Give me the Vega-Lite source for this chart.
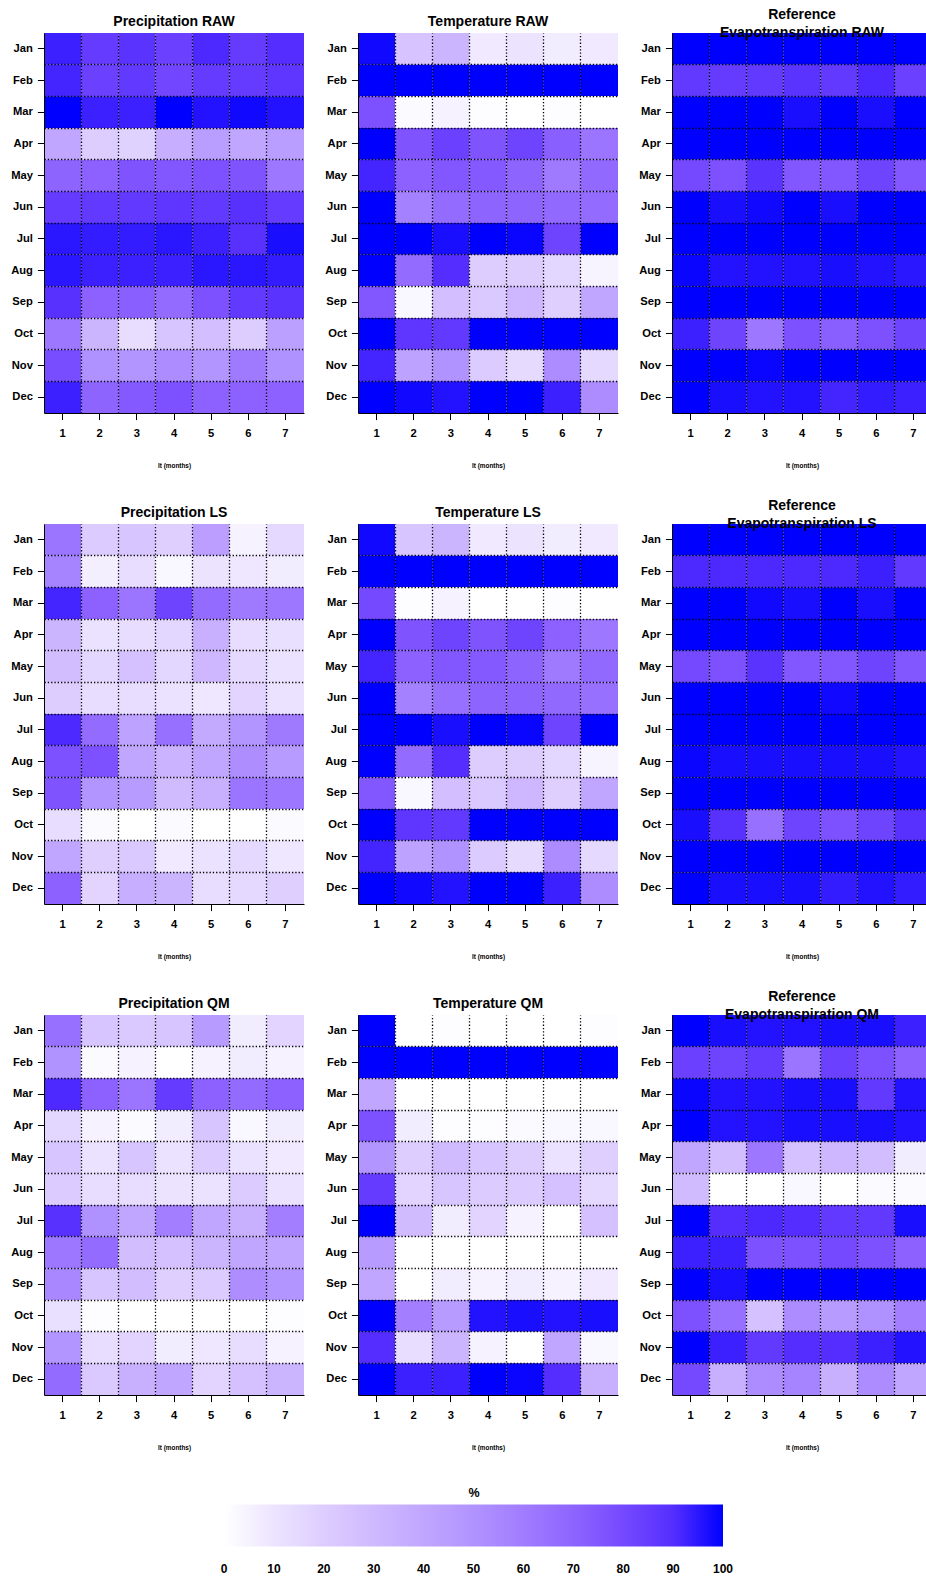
{
"$schema": "https://vega.github.io/schema/vega-lite/v6.json",
"padding": {"left": 10, "top": 8, "right": 0, "bottom": 0},
"bounds": "flush",
"columns": 3,
"spacing": {"row": 111, "column": 54},
"resolve": {"scale": {"color": "shared"}, "legend": {"color": "shared"}},
"config": {
  "view": {"stroke": null},
  "font": "Liberation Sans",
  "axis": {"labelFont": "Liberation Sans", "labelFontWeight": "bold", "labelFontSize": 11.2, "labelColor": "black", "tickColor": "black", "tickSize": 6.6, "tickWidth": 1, "domainColor": "black", "domainWidth": 1, "titleFont": "Liberation Sans", "titleColor": "black", "grid": false},
  "axisX": {"labelPadding": 8, "labelAngle": 0},
  "axisY": {"labelPadding": 5},
  "title": {"font": "Liberation Sans", "fontSize": 14, "fontWeight": "bold", "color": "black", "offset": 4, "anchor": "middle", "lineHeight": 18},
  "legend": {"gradientLength": 499, "gradientThickness": 42, "titleAnchor": "middle", "titleFontSize": 12.5, "titleFont": "Liberation Sans", "titleFontWeight": "bold", "titleColor": "black", "labelFont": "Liberation Sans", "labelFontWeight": "bold", "labelFontSize": 12, "labelColor": "black", "labelOverlap": false, "gradientStrokeWidth": 0, "titlePadding": 5, "gradientLabelOffset": 17}
},
"datasets": {
"PR": [
{"m":"Jan","lt":1,"v":93},{"m":"Jan","lt":2,"v":85},{"m":"Jan","lt":3,"v":88},{"m":"Jan","lt":4,"v":83},{"m":"Jan","lt":5,"v":91},{"m":"Jan","lt":6,"v":85},{"m":"Jan","lt":7,"v":90},
{"m":"Feb","lt":1,"v":92},{"m":"Feb","lt":2,"v":83},{"m":"Feb","lt":3,"v":86},{"m":"Feb","lt":4,"v":81},{"m":"Feb","lt":5,"v":85},{"m":"Feb","lt":6,"v":85},{"m":"Feb","lt":7,"v":87},
{"m":"Mar","lt":1,"v":100},{"m":"Mar","lt":2,"v":93},{"m":"Mar","lt":3,"v":93},{"m":"Mar","lt":4,"v":100},{"m":"Mar","lt":5,"v":96},{"m":"Mar","lt":6,"v":98},{"m":"Mar","lt":7,"v":96},
{"m":"Apr","lt":1,"v":40},{"m":"Apr","lt":2,"v":20},{"m":"Apr","lt":3,"v":18},{"m":"Apr","lt":4,"v":36},{"m":"Apr","lt":5,"v":45},{"m":"Apr","lt":6,"v":40},{"m":"Apr","lt":7,"v":45},
{"m":"May","lt":1,"v":70},{"m":"May","lt":2,"v":71},{"m":"May","lt":3,"v":76},{"m":"May","lt":4,"v":75},{"m":"May","lt":5,"v":77},{"m":"May","lt":6,"v":76},{"m":"May","lt":7,"v":62},
{"m":"Jun","lt":1,"v":85},{"m":"Jun","lt":2,"v":86},{"m":"Jun","lt":3,"v":86},{"m":"Jun","lt":4,"v":87},{"m":"Jun","lt":5,"v":86},{"m":"Jun","lt":6,"v":89},{"m":"Jun","lt":7,"v":85},
{"m":"Jul","lt":1,"v":95},{"m":"Jul","lt":2,"v":94},{"m":"Jul","lt":3,"v":94},{"m":"Jul","lt":4,"v":95},{"m":"Jul","lt":5,"v":93},{"m":"Jul","lt":6,"v":89},{"m":"Jul","lt":7,"v":97},
{"m":"Aug","lt":1,"v":95},{"m":"Aug","lt":2,"v":93},{"m":"Aug","lt":3,"v":93},{"m":"Aug","lt":4,"v":93},{"m":"Aug","lt":5,"v":95},{"m":"Aug","lt":6,"v":95},{"m":"Aug","lt":7,"v":94},
{"m":"Sep","lt":1,"v":89},{"m":"Sep","lt":2,"v":71},{"m":"Sep","lt":3,"v":72},{"m":"Sep","lt":4,"v":67},{"m":"Sep","lt":5,"v":77},{"m":"Sep","lt":6,"v":86},{"m":"Sep","lt":7,"v":88},
{"m":"Oct","lt":1,"v":62},{"m":"Oct","lt":2,"v":32},{"m":"Oct","lt":3,"v":13},{"m":"Oct","lt":4,"v":24},{"m":"Oct","lt":5,"v":27},{"m":"Oct","lt":6,"v":20},{"m":"Oct","lt":7,"v":43},
{"m":"Nov","lt":1,"v":79},{"m":"Nov","lt":2,"v":51},{"m":"Nov","lt":3,"v":49},{"m":"Nov","lt":4,"v":53},{"m":"Nov","lt":5,"v":49},{"m":"Nov","lt":6,"v":61},{"m":"Nov","lt":7,"v":51},
{"m":"Dec","lt":1,"v":93},{"m":"Dec","lt":2,"v":70},{"m":"Dec","lt":3,"v":74},{"m":"Dec","lt":4,"v":77},{"m":"Dec","lt":5,"v":71},{"m":"Dec","lt":6,"v":71},{"m":"Dec","lt":7,"v":71}
],
"TR": [
{"m":"Jan","lt":1,"v":98},{"m":"Jan","lt":2,"v":25},{"m":"Jan","lt":3,"v":32},{"m":"Jan","lt":4,"v":8},{"m":"Jan","lt":5,"v":10},{"m":"Jan","lt":6,"v":7},{"m":"Jan","lt":7,"v":8},
{"m":"Feb","lt":1,"v":100},{"m":"Feb","lt":2,"v":100},{"m":"Feb","lt":3,"v":100},{"m":"Feb","lt":4,"v":100},{"m":"Feb","lt":5,"v":100},{"m":"Feb","lt":6,"v":100},{"m":"Feb","lt":7,"v":100},
{"m":"Mar","lt":1,"v":77},{"m":"Mar","lt":2,"v":2},{"m":"Mar","lt":3,"v":5},{"m":"Mar","lt":4,"v":1},{"m":"Mar","lt":5,"v":0},{"m":"Mar","lt":6,"v":1},{"m":"Mar","lt":7,"v":0},
{"m":"Apr","lt":1,"v":100},{"m":"Apr","lt":2,"v":76},{"m":"Apr","lt":3,"v":83},{"m":"Apr","lt":4,"v":76},{"m":"Apr","lt":5,"v":82},{"m":"Apr","lt":6,"v":72},{"m":"Apr","lt":7,"v":63},
{"m":"May","lt":1,"v":92},{"m":"May","lt":2,"v":71},{"m":"May","lt":3,"v":75},{"m":"May","lt":4,"v":74},{"m":"May","lt":5,"v":70},{"m":"May","lt":6,"v":61},{"m":"May","lt":7,"v":68},
{"m":"Jun","lt":1,"v":100},{"m":"Jun","lt":2,"v":58},{"m":"Jun","lt":3,"v":67},{"m":"Jun","lt":4,"v":70},{"m":"Jun","lt":5,"v":70},{"m":"Jun","lt":6,"v":68},{"m":"Jun","lt":7,"v":67},
{"m":"Jul","lt":1,"v":100},{"m":"Jul","lt":2,"v":100},{"m":"Jul","lt":3,"v":97},{"m":"Jul","lt":4,"v":100},{"m":"Jul","lt":5,"v":99},{"m":"Jul","lt":6,"v":82},{"m":"Jul","lt":7,"v":100},
{"m":"Aug","lt":1,"v":100},{"m":"Aug","lt":2,"v":67},{"m":"Aug","lt":3,"v":90},{"m":"Aug","lt":4,"v":20},{"m":"Aug","lt":5,"v":20},{"m":"Aug","lt":6,"v":16},{"m":"Aug","lt":7,"v":4},
{"m":"Sep","lt":1,"v":75},{"m":"Sep","lt":2,"v":3},{"m":"Sep","lt":3,"v":27},{"m":"Sep","lt":4,"v":22},{"m":"Sep","lt":5,"v":31},{"m":"Sep","lt":6,"v":19},{"m":"Sep","lt":7,"v":40},
{"m":"Oct","lt":1,"v":100},{"m":"Oct","lt":2,"v":87},{"m":"Oct","lt":3,"v":86},{"m":"Oct","lt":4,"v":100},{"m":"Oct","lt":5,"v":100},{"m":"Oct","lt":6,"v":100},{"m":"Oct","lt":7,"v":100},
{"m":"Nov","lt":1,"v":92},{"m":"Nov","lt":2,"v":42},{"m":"Nov","lt":3,"v":50},{"m":"Nov","lt":4,"v":21},{"m":"Nov","lt":5,"v":14},{"m":"Nov","lt":6,"v":53},{"m":"Nov","lt":7,"v":15},
{"m":"Dec","lt":1,"v":100},{"m":"Dec","lt":2,"v":98},{"m":"Dec","lt":3,"v":96},{"m":"Dec","lt":4,"v":100},{"m":"Dec","lt":5,"v":100},{"m":"Dec","lt":6,"v":93},{"m":"Dec","lt":7,"v":53}
],
"ER": [
{"m":"Jan","lt":1,"v":100},{"m":"Jan","lt":2,"v":100},{"m":"Jan","lt":3,"v":100},{"m":"Jan","lt":4,"v":100},{"m":"Jan","lt":5,"v":100},{"m":"Jan","lt":6,"v":100},{"m":"Jan","lt":7,"v":100},
{"m":"Feb","lt":1,"v":86},{"m":"Feb","lt":2,"v":85},{"m":"Feb","lt":3,"v":86},{"m":"Feb","lt":4,"v":88},{"m":"Feb","lt":5,"v":86},{"m":"Feb","lt":6,"v":91},{"m":"Feb","lt":7,"v":83},
{"m":"Mar","lt":1,"v":100},{"m":"Mar","lt":2,"v":100},{"m":"Mar","lt":3,"v":100},{"m":"Mar","lt":4,"v":97},{"m":"Mar","lt":5,"v":100},{"m":"Mar","lt":6,"v":97},{"m":"Mar","lt":7,"v":100},
{"m":"Apr","lt":1,"v":100},{"m":"Apr","lt":2,"v":100},{"m":"Apr","lt":3,"v":100},{"m":"Apr","lt":4,"v":100},{"m":"Apr","lt":5,"v":100},{"m":"Apr","lt":6,"v":100},{"m":"Apr","lt":7,"v":100},
{"m":"May","lt":1,"v":80},{"m":"May","lt":2,"v":77},{"m":"May","lt":3,"v":88},{"m":"May","lt":4,"v":75},{"m":"May","lt":5,"v":75},{"m":"May","lt":6,"v":82},{"m":"May","lt":7,"v":75},
{"m":"Jun","lt":1,"v":100},{"m":"Jun","lt":2,"v":97},{"m":"Jun","lt":3,"v":98},{"m":"Jun","lt":4,"v":100},{"m":"Jun","lt":5,"v":97},{"m":"Jun","lt":6,"v":100},{"m":"Jun","lt":7,"v":100},
{"m":"Jul","lt":1,"v":100},{"m":"Jul","lt":2,"v":100},{"m":"Jul","lt":3,"v":100},{"m":"Jul","lt":4,"v":100},{"m":"Jul","lt":5,"v":100},{"m":"Jul","lt":6,"v":100},{"m":"Jul","lt":7,"v":100},
{"m":"Aug","lt":1,"v":99},{"m":"Aug","lt":2,"v":96},{"m":"Aug","lt":3,"v":96},{"m":"Aug","lt":4,"v":96},{"m":"Aug","lt":5,"v":97},{"m":"Aug","lt":6,"v":96},{"m":"Aug","lt":7,"v":95},
{"m":"Sep","lt":1,"v":100},{"m":"Sep","lt":2,"v":100},{"m":"Sep","lt":3,"v":100},{"m":"Sep","lt":4,"v":100},{"m":"Sep","lt":5,"v":100},{"m":"Sep","lt":6,"v":100},{"m":"Sep","lt":7,"v":100},
{"m":"Oct","lt":1,"v":93},{"m":"Oct","lt":2,"v":82},{"m":"Oct","lt":3,"v":62},{"m":"Oct","lt":4,"v":77},{"m":"Oct","lt":5,"v":72},{"m":"Oct","lt":6,"v":77},{"m":"Oct","lt":7,"v":82},
{"m":"Nov","lt":1,"v":100},{"m":"Nov","lt":2,"v":100},{"m":"Nov","lt":3,"v":99},{"m":"Nov","lt":4,"v":100},{"m":"Nov","lt":5,"v":100},{"m":"Nov","lt":6,"v":100},{"m":"Nov","lt":7,"v":100},
{"m":"Dec","lt":1,"v":100},{"m":"Dec","lt":2,"v":97},{"m":"Dec","lt":3,"v":96},{"m":"Dec","lt":4,"v":96},{"m":"Dec","lt":5,"v":92},{"m":"Dec","lt":6,"v":94},{"m":"Dec","lt":7,"v":93}
],
"PL": [
{"m":"Jan","lt":1,"v":63},{"m":"Jan","lt":2,"v":21},{"m":"Jan","lt":3,"v":24},{"m":"Jan","lt":4,"v":19},{"m":"Jan","lt":5,"v":44},{"m":"Jan","lt":6,"v":5},{"m":"Jan","lt":7,"v":15},
{"m":"Feb","lt":1,"v":57},{"m":"Feb","lt":2,"v":6},{"m":"Feb","lt":3,"v":13},{"m":"Feb","lt":4,"v":3},{"m":"Feb","lt":5,"v":10},{"m":"Feb","lt":6,"v":9},{"m":"Feb","lt":7,"v":7},
{"m":"Mar","lt":1,"v":92},{"m":"Mar","lt":2,"v":71},{"m":"Mar","lt":3,"v":63},{"m":"Mar","lt":4,"v":82},{"m":"Mar","lt":5,"v":67},{"m":"Mar","lt":6,"v":61},{"m":"Mar","lt":7,"v":62},
{"m":"Apr","lt":1,"v":32},{"m":"Apr","lt":2,"v":11},{"m":"Apr","lt":3,"v":13},{"m":"Apr","lt":4,"v":16},{"m":"Apr","lt":5,"v":35},{"m":"Apr","lt":6,"v":13},{"m":"Apr","lt":7,"v":12},
{"m":"May","lt":1,"v":28},{"m":"May","lt":2,"v":16},{"m":"May","lt":3,"v":26},{"m":"May","lt":4,"v":16},{"m":"May","lt":5,"v":31},{"m":"May","lt":6,"v":15},{"m":"May","lt":7,"v":11},
{"m":"Jun","lt":1,"v":20},{"m":"Jun","lt":2,"v":13},{"m":"Jun","lt":3,"v":13},{"m":"Jun","lt":4,"v":11},{"m":"Jun","lt":5,"v":9},{"m":"Jun","lt":6,"v":17},{"m":"Jun","lt":7,"v":11},
{"m":"Jul","lt":1,"v":91},{"m":"Jul","lt":2,"v":67},{"m":"Jul","lt":3,"v":42},{"m":"Jul","lt":4,"v":65},{"m":"Jul","lt":5,"v":38},{"m":"Jul","lt":6,"v":49},{"m":"Jul","lt":7,"v":61},
{"m":"Aug","lt":1,"v":77},{"m":"Aug","lt":2,"v":77},{"m":"Aug","lt":3,"v":40},{"m":"Aug","lt":4,"v":33},{"m":"Aug","lt":5,"v":40},{"m":"Aug","lt":6,"v":52},{"m":"Aug","lt":7,"v":46},
{"m":"Sep","lt":1,"v":76},{"m":"Sep","lt":2,"v":49},{"m":"Sep","lt":3,"v":46},{"m":"Sep","lt":4,"v":29},{"m":"Sep","lt":5,"v":35},{"m":"Sep","lt":6,"v":63},{"m":"Sep","lt":7,"v":62},
{"m":"Oct","lt":1,"v":13},{"m":"Oct","lt":2,"v":2},{"m":"Oct","lt":3,"v":0},{"m":"Oct","lt":4,"v":2},{"m":"Oct","lt":5,"v":0},{"m":"Oct","lt":6,"v":0},{"m":"Oct","lt":7,"v":2},
{"m":"Nov","lt":1,"v":40},{"m":"Nov","lt":2,"v":19},{"m":"Nov","lt":3,"v":22},{"m":"Nov","lt":4,"v":8},{"m":"Nov","lt":5,"v":11},{"m":"Nov","lt":6,"v":15},{"m":"Nov","lt":7,"v":9},
{"m":"Dec","lt":1,"v":71},{"m":"Dec","lt":2,"v":17},{"m":"Dec","lt":3,"v":36},{"m":"Dec","lt":4,"v":32},{"m":"Dec","lt":5,"v":13},{"m":"Dec","lt":6,"v":15},{"m":"Dec","lt":7,"v":19}
],
"TL": [
{"m":"Jan","lt":1,"v":98},{"m":"Jan","lt":2,"v":24},{"m":"Jan","lt":3,"v":32},{"m":"Jan","lt":4,"v":8},{"m":"Jan","lt":5,"v":10},{"m":"Jan","lt":6,"v":7},{"m":"Jan","lt":7,"v":8},
{"m":"Feb","lt":1,"v":100},{"m":"Feb","lt":2,"v":100},{"m":"Feb","lt":3,"v":100},{"m":"Feb","lt":4,"v":100},{"m":"Feb","lt":5,"v":100},{"m":"Feb","lt":6,"v":100},{"m":"Feb","lt":7,"v":100},
{"m":"Mar","lt":1,"v":80},{"m":"Mar","lt":2,"v":1},{"m":"Mar","lt":3,"v":5},{"m":"Mar","lt":4,"v":0},{"m":"Mar","lt":5,"v":0},{"m":"Mar","lt":6,"v":1},{"m":"Mar","lt":7,"v":0},
{"m":"Apr","lt":1,"v":100},{"m":"Apr","lt":2,"v":76},{"m":"Apr","lt":3,"v":82},{"m":"Apr","lt":4,"v":76},{"m":"Apr","lt":5,"v":82},{"m":"Apr","lt":6,"v":71},{"m":"Apr","lt":7,"v":62},
{"m":"May","lt":1,"v":92},{"m":"May","lt":2,"v":71},{"m":"May","lt":3,"v":75},{"m":"May","lt":4,"v":74},{"m":"May","lt":5,"v":70},{"m":"May","lt":6,"v":61},{"m":"May","lt":7,"v":68},
{"m":"Jun","lt":1,"v":100},{"m":"Jun","lt":2,"v":58},{"m":"Jun","lt":3,"v":65},{"m":"Jun","lt":4,"v":70},{"m":"Jun","lt":5,"v":70},{"m":"Jun","lt":6,"v":68},{"m":"Jun","lt":7,"v":65},
{"m":"Jul","lt":1,"v":100},{"m":"Jul","lt":2,"v":100},{"m":"Jul","lt":3,"v":97},{"m":"Jul","lt":4,"v":100},{"m":"Jul","lt":5,"v":99},{"m":"Jul","lt":6,"v":82},{"m":"Jul","lt":7,"v":100},
{"m":"Aug","lt":1,"v":100},{"m":"Aug","lt":2,"v":67},{"m":"Aug","lt":3,"v":90},{"m":"Aug","lt":4,"v":20},{"m":"Aug","lt":5,"v":20},{"m":"Aug","lt":6,"v":16},{"m":"Aug","lt":7,"v":4},
{"m":"Sep","lt":1,"v":75},{"m":"Sep","lt":2,"v":3},{"m":"Sep","lt":3,"v":27},{"m":"Sep","lt":4,"v":22},{"m":"Sep","lt":5,"v":31},{"m":"Sep","lt":6,"v":19},{"m":"Sep","lt":7,"v":40},
{"m":"Oct","lt":1,"v":100},{"m":"Oct","lt":2,"v":87},{"m":"Oct","lt":3,"v":86},{"m":"Oct","lt":4,"v":100},{"m":"Oct","lt":5,"v":100},{"m":"Oct","lt":6,"v":100},{"m":"Oct","lt":7,"v":100},
{"m":"Nov","lt":1,"v":92},{"m":"Nov","lt":2,"v":42},{"m":"Nov","lt":3,"v":50},{"m":"Nov","lt":4,"v":21},{"m":"Nov","lt":5,"v":14},{"m":"Nov","lt":6,"v":53},{"m":"Nov","lt":7,"v":15},
{"m":"Dec","lt":1,"v":100},{"m":"Dec","lt":2,"v":98},{"m":"Dec","lt":3,"v":96},{"m":"Dec","lt":4,"v":100},{"m":"Dec","lt":5,"v":100},{"m":"Dec","lt":6,"v":93},{"m":"Dec","lt":7,"v":53}
],
"EL": [
{"m":"Jan","lt":1,"v":100},{"m":"Jan","lt":2,"v":100},{"m":"Jan","lt":3,"v":100},{"m":"Jan","lt":4,"v":100},{"m":"Jan","lt":5,"v":100},{"m":"Jan","lt":6,"v":100},{"m":"Jan","lt":7,"v":100},
{"m":"Feb","lt":1,"v":91},{"m":"Feb","lt":2,"v":91},{"m":"Feb","lt":3,"v":91},{"m":"Feb","lt":4,"v":91},{"m":"Feb","lt":5,"v":91},{"m":"Feb","lt":6,"v":93},{"m":"Feb","lt":7,"v":86},
{"m":"Mar","lt":1,"v":100},{"m":"Mar","lt":2,"v":100},{"m":"Mar","lt":3,"v":98},{"m":"Mar","lt":4,"v":97},{"m":"Mar","lt":5,"v":100},{"m":"Mar","lt":6,"v":97},{"m":"Mar","lt":7,"v":100},
{"m":"Apr","lt":1,"v":100},{"m":"Apr","lt":2,"v":100},{"m":"Apr","lt":3,"v":100},{"m":"Apr","lt":4,"v":100},{"m":"Apr","lt":5,"v":100},{"m":"Apr","lt":6,"v":100},{"m":"Apr","lt":7,"v":100},
{"m":"May","lt":1,"v":80},{"m":"May","lt":2,"v":77},{"m":"May","lt":3,"v":88},{"m":"May","lt":4,"v":75},{"m":"May","lt":5,"v":75},{"m":"May","lt":6,"v":82},{"m":"May","lt":7,"v":75},
{"m":"Jun","lt":1,"v":100},{"m":"Jun","lt":2,"v":100},{"m":"Jun","lt":3,"v":100},{"m":"Jun","lt":4,"v":100},{"m":"Jun","lt":5,"v":98},{"m":"Jun","lt":6,"v":100},{"m":"Jun","lt":7,"v":100},
{"m":"Jul","lt":1,"v":100},{"m":"Jul","lt":2,"v":100},{"m":"Jul","lt":3,"v":100},{"m":"Jul","lt":4,"v":100},{"m":"Jul","lt":5,"v":100},{"m":"Jul","lt":6,"v":100},{"m":"Jul","lt":7,"v":100},
{"m":"Aug","lt":1,"v":99},{"m":"Aug","lt":2,"v":97},{"m":"Aug","lt":3,"v":97},{"m":"Aug","lt":4,"v":97},{"m":"Aug","lt":5,"v":97},{"m":"Aug","lt":6,"v":97},{"m":"Aug","lt":7,"v":96},
{"m":"Sep","lt":1,"v":100},{"m":"Sep","lt":2,"v":100},{"m":"Sep","lt":3,"v":100},{"m":"Sep","lt":4,"v":100},{"m":"Sep","lt":5,"v":100},{"m":"Sep","lt":6,"v":100},{"m":"Sep","lt":7,"v":100},
{"m":"Oct","lt":1,"v":97},{"m":"Oct","lt":2,"v":89},{"m":"Oct","lt":3,"v":65},{"m":"Oct","lt":4,"v":82},{"m":"Oct","lt":5,"v":77},{"m":"Oct","lt":6,"v":82},{"m":"Oct","lt":7,"v":89},
{"m":"Nov","lt":1,"v":100},{"m":"Nov","lt":2,"v":100},{"m":"Nov","lt":3,"v":100},{"m":"Nov","lt":4,"v":100},{"m":"Nov","lt":5,"v":100},{"m":"Nov","lt":6,"v":100},{"m":"Nov","lt":7,"v":100},
{"m":"Dec","lt":1,"v":100},{"m":"Dec","lt":2,"v":97},{"m":"Dec","lt":3,"v":97},{"m":"Dec","lt":4,"v":97},{"m":"Dec","lt":5,"v":94},{"m":"Dec","lt":6,"v":96},{"m":"Dec","lt":7,"v":94}
],
"PQ": [
{"m":"Jan","lt":1,"v":65},{"m":"Jan","lt":2,"v":24},{"m":"Jan","lt":3,"v":22},{"m":"Jan","lt":4,"v":24},{"m":"Jan","lt":5,"v":46},{"m":"Jan","lt":6,"v":7},{"m":"Jan","lt":7,"v":17},
{"m":"Feb","lt":1,"v":50},{"m":"Feb","lt":2,"v":2},{"m":"Feb","lt":3,"v":5},{"m":"Feb","lt":4,"v":0},{"m":"Feb","lt":5,"v":5},{"m":"Feb","lt":6,"v":7},{"m":"Feb","lt":7,"v":5},
{"m":"Mar","lt":1,"v":91},{"m":"Mar","lt":2,"v":71},{"m":"Mar","lt":3,"v":63},{"m":"Mar","lt":4,"v":85},{"m":"Mar","lt":5,"v":71},{"m":"Mar","lt":6,"v":67},{"m":"Mar","lt":7,"v":71},
{"m":"Apr","lt":1,"v":16},{"m":"Apr","lt":2,"v":5},{"m":"Apr","lt":3,"v":2},{"m":"Apr","lt":4,"v":7},{"m":"Apr","lt":5,"v":24},{"m":"Apr","lt":6,"v":3},{"m":"Apr","lt":7,"v":7},
{"m":"May","lt":1,"v":24},{"m":"May","lt":2,"v":11},{"m":"May","lt":3,"v":24},{"m":"May","lt":4,"v":11},{"m":"May","lt":5,"v":21},{"m":"May","lt":6,"v":11},{"m":"May","lt":7,"v":8},
{"m":"Jun","lt":1,"v":21},{"m":"Jun","lt":2,"v":13},{"m":"Jun","lt":3,"v":13},{"m":"Jun","lt":4,"v":10},{"m":"Jun","lt":5,"v":11},{"m":"Jun","lt":6,"v":21},{"m":"Jun","lt":7,"v":11},
{"m":"Jul","lt":1,"v":89},{"m":"Jul","lt":2,"v":51},{"m":"Jul","lt":3,"v":40},{"m":"Jul","lt":4,"v":59},{"m":"Jul","lt":5,"v":40},{"m":"Jul","lt":6,"v":35},{"m":"Jul","lt":7,"v":59},
{"m":"Aug","lt":1,"v":62},{"m":"Aug","lt":2,"v":67},{"m":"Aug","lt":3,"v":28},{"m":"Aug","lt":4,"v":26},{"m":"Aug","lt":5,"v":32},{"m":"Aug","lt":6,"v":40},{"m":"Aug","lt":7,"v":40},
{"m":"Sep","lt":1,"v":55},{"m":"Sep","lt":2,"v":24},{"m":"Sep","lt":3,"v":28},{"m":"Sep","lt":4,"v":19},{"m":"Sep","lt":5,"v":21},{"m":"Sep","lt":6,"v":52},{"m":"Sep","lt":7,"v":49},
{"m":"Oct","lt":1,"v":12},{"m":"Oct","lt":2,"v":1},{"m":"Oct","lt":3,"v":0},{"m":"Oct","lt":4,"v":0},{"m":"Oct","lt":5,"v":0},{"m":"Oct","lt":6,"v":0},{"m":"Oct","lt":7,"v":1},
{"m":"Nov","lt":1,"v":49},{"m":"Nov","lt":2,"v":13},{"m":"Nov","lt":3,"v":17},{"m":"Nov","lt":4,"v":7},{"m":"Nov","lt":5,"v":9},{"m":"Nov","lt":6,"v":13},{"m":"Nov","lt":7,"v":5},
{"m":"Dec","lt":1,"v":67},{"m":"Dec","lt":2,"v":22},{"m":"Dec","lt":3,"v":35},{"m":"Dec","lt":4,"v":40},{"m":"Dec","lt":5,"v":17},{"m":"Dec","lt":6,"v":26},{"m":"Dec","lt":7,"v":32}
],
"TQ": [
{"m":"Jan","lt":1,"v":100},{"m":"Jan","lt":2,"v":0},{"m":"Jan","lt":3,"v":1},{"m":"Jan","lt":4,"v":0},{"m":"Jan","lt":5,"v":0},{"m":"Jan","lt":6,"v":0},{"m":"Jan","lt":7,"v":1},
{"m":"Feb","lt":1,"v":100},{"m":"Feb","lt":2,"v":100},{"m":"Feb","lt":3,"v":100},{"m":"Feb","lt":4,"v":100},{"m":"Feb","lt":5,"v":100},{"m":"Feb","lt":6,"v":100},{"m":"Feb","lt":7,"v":100},
{"m":"Mar","lt":1,"v":40},{"m":"Mar","lt":2,"v":0},{"m":"Mar","lt":3,"v":0},{"m":"Mar","lt":4,"v":0},{"m":"Mar","lt":5,"v":0},{"m":"Mar","lt":6,"v":0},{"m":"Mar","lt":7,"v":0},
{"m":"Apr","lt":1,"v":77},{"m":"Apr","lt":2,"v":7},{"m":"Apr","lt":3,"v":1},{"m":"Apr","lt":4,"v":1},{"m":"Apr","lt":5,"v":2},{"m":"Apr","lt":6,"v":3},{"m":"Apr","lt":7,"v":3},
{"m":"May","lt":1,"v":49},{"m":"May","lt":2,"v":20},{"m":"May","lt":3,"v":29},{"m":"May","lt":4,"v":24},{"m":"May","lt":5,"v":20},{"m":"May","lt":6,"v":11},{"m":"May","lt":7,"v":19},
{"m":"Jun","lt":1,"v":85},{"m":"Jun","lt":2,"v":17},{"m":"Jun","lt":3,"v":24},{"m":"Jun","lt":4,"v":21},{"m":"Jun","lt":5,"v":21},{"m":"Jun","lt":6,"v":26},{"m":"Jun","lt":7,"v":15},
{"m":"Jul","lt":1,"v":100},{"m":"Jul","lt":2,"v":29},{"m":"Jul","lt":3,"v":7},{"m":"Jul","lt":4,"v":17},{"m":"Jul","lt":5,"v":5},{"m":"Jul","lt":6,"v":0},{"m":"Jul","lt":7,"v":26},
{"m":"Aug","lt":1,"v":46},{"m":"Aug","lt":2,"v":0},{"m":"Aug","lt":3,"v":0},{"m":"Aug","lt":4,"v":0},{"m":"Aug","lt":5,"v":0},{"m":"Aug","lt":6,"v":0},{"m":"Aug","lt":7,"v":0},
{"m":"Sep","lt":1,"v":40},{"m":"Sep","lt":2,"v":0},{"m":"Sep","lt":3,"v":7},{"m":"Sep","lt":4,"v":5},{"m":"Sep","lt":5,"v":7},{"m":"Sep","lt":6,"v":5},{"m":"Sep","lt":7,"v":8},
{"m":"Oct","lt":1,"v":100},{"m":"Oct","lt":2,"v":59},{"m":"Oct","lt":3,"v":46},{"m":"Oct","lt":4,"v":96},{"m":"Oct","lt":5,"v":97},{"m":"Oct","lt":6,"v":96},{"m":"Oct","lt":7,"v":97},
{"m":"Nov","lt":1,"v":90},{"m":"Nov","lt":2,"v":13},{"m":"Nov","lt":3,"v":32},{"m":"Nov","lt":4,"v":5},{"m":"Nov","lt":5,"v":0},{"m":"Nov","lt":6,"v":40},{"m":"Nov","lt":7,"v":3},
{"m":"Dec","lt":1,"v":100},{"m":"Dec","lt":2,"v":93},{"m":"Dec","lt":3,"v":93},{"m":"Dec","lt":4,"v":100},{"m":"Dec","lt":5,"v":99},{"m":"Dec","lt":6,"v":90},{"m":"Dec","lt":7,"v":35}
],
"EQ": [
{"m":"Jan","lt":1,"v":100},{"m":"Jan","lt":2,"v":97},{"m":"Jan","lt":3,"v":96},{"m":"Jan","lt":4,"v":96},{"m":"Jan","lt":5,"v":97},{"m":"Jan","lt":6,"v":97},{"m":"Jan","lt":7,"v":93},
{"m":"Feb","lt":1,"v":83},{"m":"Feb","lt":2,"v":82},{"m":"Feb","lt":3,"v":85},{"m":"Feb","lt":4,"v":63},{"m":"Feb","lt":5,"v":83},{"m":"Feb","lt":6,"v":77},{"m":"Feb","lt":7,"v":71},
{"m":"Mar","lt":1,"v":99},{"m":"Mar","lt":2,"v":96},{"m":"Mar","lt":3,"v":96},{"m":"Mar","lt":4,"v":97},{"m":"Mar","lt":5,"v":97},{"m":"Mar","lt":6,"v":86},{"m":"Mar","lt":7,"v":96},
{"m":"Apr","lt":1,"v":100},{"m":"Apr","lt":2,"v":96},{"m":"Apr","lt":3,"v":96},{"m":"Apr","lt":4,"v":97},{"m":"Apr","lt":5,"v":97},{"m":"Apr","lt":6,"v":97},{"m":"Apr","lt":7,"v":96},
{"m":"May","lt":1,"v":40},{"m":"May","lt":2,"v":28},{"m":"May","lt":3,"v":62},{"m":"May","lt":4,"v":26},{"m":"May","lt":5,"v":31},{"m":"May","lt":6,"v":28},{"m":"May","lt":7,"v":7},
{"m":"Jun","lt":1,"v":29},{"m":"Jun","lt":2,"v":0},{"m":"Jun","lt":3,"v":0},{"m":"Jun","lt":4,"v":3},{"m":"Jun","lt":5,"v":0},{"m":"Jun","lt":6,"v":2},{"m":"Jun","lt":7,"v":2},
{"m":"Jul","lt":1,"v":100},{"m":"Jul","lt":2,"v":90},{"m":"Jul","lt":3,"v":91},{"m":"Jul","lt":4,"v":90},{"m":"Jul","lt":5,"v":86},{"m":"Jul","lt":6,"v":86},{"m":"Jul","lt":7,"v":97},
{"m":"Aug","lt":1,"v":93},{"m":"Aug","lt":2,"v":93},{"m":"Aug","lt":3,"v":77},{"m":"Aug","lt":4,"v":77},{"m":"Aug","lt":5,"v":80},{"m":"Aug","lt":6,"v":77},{"m":"Aug","lt":7,"v":71},
{"m":"Sep","lt":1,"v":100},{"m":"Sep","lt":2,"v":97},{"m":"Sep","lt":3,"v":100},{"m":"Sep","lt":4,"v":100},{"m":"Sep","lt":5,"v":100},{"m":"Sep","lt":6,"v":100},{"m":"Sep","lt":7,"v":100},
{"m":"Oct","lt":1,"v":77},{"m":"Oct","lt":2,"v":65},{"m":"Oct","lt":3,"v":26},{"m":"Oct","lt":4,"v":53},{"m":"Oct","lt":5,"v":46},{"m":"Oct","lt":6,"v":51},{"m":"Oct","lt":7,"v":59},
{"m":"Nov","lt":1,"v":100},{"m":"Nov","lt":2,"v":93},{"m":"Nov","lt":3,"v":86},{"m":"Nov","lt":4,"v":90},{"m":"Nov","lt":5,"v":90},{"m":"Nov","lt":6,"v":93},{"m":"Nov","lt":7,"v":96},
{"m":"Dec","lt":1,"v":80},{"m":"Dec","lt":2,"v":35},{"m":"Dec","lt":3,"v":53},{"m":"Dec","lt":4,"v":57},{"m":"Dec","lt":5,"v":35},{"m":"Dec","lt":6,"v":53},{"m":"Dec","lt":7,"v":40}
]
},
"concat": [
{"width":260,"height":380,"data":{"name":"PR"},"title":{"text":"Precipitation RAW"},
 "layer":[
  {"mark":"rect","encoding":{
   "x":{"field":"lt","type":"ordinal","axis":{"title":"lt (months)","titleFontSize":6.4,"titleFontWeight":"bold","titlePadding":24}},
   "y":{"field":"m","type":"ordinal","sort":["Jan","Feb","Mar","Apr","May","Jun","Jul","Aug","Sep","Oct","Nov","Dec"],"axis":{"title":null}},
   "color":{"field":"v","type":"quantitative","scale":{"domain":[0,10,20,30,40,50,60,70,80,90,100],"range":["#ffffff","#ece4ff","#ddcdff","#cfb9ff","#c1a6ff","#b193ff","#a17cff","#8e64ff","#7549ff","#552eff","#0000ff"],"interpolate":"rgb"},"legend":{"orient":"none","direction":"horizontal","legendX":180,"legendY":1454,"values":[0,10,20,30,40,50,60,70,80,90,100],"title":"%","encode":{"labels":{"update":{"align":{"value":"center"}}}}}}}},
  {"mark":{"type":"rect","opacity":0},"encoding":{
   "x":{"field":"lt","type":"ordinal","axis":{"orient":"bottom","title":null,"labels":false,"ticks":false,"domain":false,"grid":true,"bandPosition":0,"values":[2,3,4,5,6,7],"gridColor":"black","gridDash":[1.3,2],"gridWidth":1.3,"gridOpacity":1,"zindex":1}},
   "y":{"field":"m","type":"ordinal","sort":["Jan","Feb","Mar","Apr","May","Jun","Jul","Aug","Sep","Oct","Nov","Dec"],"axis":{"orient":"left","title":null,"labels":false,"ticks":false,"domain":false,"grid":true,"bandPosition":0,"values":["Feb","Mar","Apr","May","Jun","Jul","Aug","Sep","Oct","Nov","Dec"],"gridColor":"black","gridDash":[1.3,2],"gridWidth":1.3,"gridOpacity":1,"zindex":1}}}}
 ],
 "resolve":{"axis":{"x":"independent","y":"independent"}}},
{"width":260,"height":380,"data":{"name":"TR"},"title":{"text":"Temperature RAW"},
 "layer":[
  {"mark":"rect","encoding":{
   "x":{"field":"lt","type":"ordinal","axis":{"title":"lt (months)","titleFontSize":6.4,"titleFontWeight":"bold","titlePadding":24}},
   "y":{"field":"m","type":"ordinal","sort":["Jan","Feb","Mar","Apr","May","Jun","Jul","Aug","Sep","Oct","Nov","Dec"],"axis":{"title":null}},
   "color":{"field":"v","type":"quantitative","scale":{"domain":[0,10,20,30,40,50,60,70,80,90,100],"range":["#ffffff","#ece4ff","#ddcdff","#cfb9ff","#c1a6ff","#b193ff","#a17cff","#8e64ff","#7549ff","#552eff","#0000ff"],"interpolate":"rgb"},"legend":{"orient":"none","direction":"horizontal","legendX":180,"legendY":1454,"values":[0,10,20,30,40,50,60,70,80,90,100],"title":"%","encode":{"labels":{"update":{"align":{"value":"center"}}}}}}}},
  {"mark":{"type":"rect","opacity":0},"encoding":{
   "x":{"field":"lt","type":"ordinal","axis":{"orient":"bottom","title":null,"labels":false,"ticks":false,"domain":false,"grid":true,"bandPosition":0,"values":[2,3,4,5,6,7],"gridColor":"black","gridDash":[1.3,2],"gridWidth":1.3,"gridOpacity":1,"zindex":1}},
   "y":{"field":"m","type":"ordinal","sort":["Jan","Feb","Mar","Apr","May","Jun","Jul","Aug","Sep","Oct","Nov","Dec"],"axis":{"orient":"left","title":null,"labels":false,"ticks":false,"domain":false,"grid":true,"bandPosition":0,"values":["Feb","Mar","Apr","May","Jun","Jul","Aug","Sep","Oct","Nov","Dec"],"gridColor":"black","gridDash":[1.3,2],"gridWidth":1.3,"gridOpacity":1,"zindex":1}}}}
 ],
 "resolve":{"axis":{"x":"independent","y":"independent"}}},
{"width":260,"height":380,"data":{"name":"ER"},"title":{"text":["Reference","Evapotranspiration RAW"],"offset":-7,"zindex":-1},
 "layer":[
  {"mark":"rect","encoding":{
   "x":{"field":"lt","type":"ordinal","axis":{"title":"lt (months)","titleFontSize":6.4,"titleFontWeight":"bold","titlePadding":24}},
   "y":{"field":"m","type":"ordinal","sort":["Jan","Feb","Mar","Apr","May","Jun","Jul","Aug","Sep","Oct","Nov","Dec"],"axis":{"title":null}},
   "color":{"field":"v","type":"quantitative","scale":{"domain":[0,10,20,30,40,50,60,70,80,90,100],"range":["#ffffff","#ece4ff","#ddcdff","#cfb9ff","#c1a6ff","#b193ff","#a17cff","#8e64ff","#7549ff","#552eff","#0000ff"],"interpolate":"rgb"},"legend":{"orient":"none","direction":"horizontal","legendX":180,"legendY":1454,"values":[0,10,20,30,40,50,60,70,80,90,100],"title":"%","encode":{"labels":{"update":{"align":{"value":"center"}}}}}}}},
  {"mark":{"type":"rect","opacity":0},"encoding":{
   "x":{"field":"lt","type":"ordinal","axis":{"orient":"bottom","title":null,"labels":false,"ticks":false,"domain":false,"grid":true,"bandPosition":0,"values":[2,3,4,5,6,7],"gridColor":"black","gridDash":[1.3,2],"gridWidth":1.3,"gridOpacity":1,"zindex":1}},
   "y":{"field":"m","type":"ordinal","sort":["Jan","Feb","Mar","Apr","May","Jun","Jul","Aug","Sep","Oct","Nov","Dec"],"axis":{"orient":"left","title":null,"labels":false,"ticks":false,"domain":false,"grid":true,"bandPosition":0,"values":["Feb","Mar","Apr","May","Jun","Jul","Aug","Sep","Oct","Nov","Dec"],"gridColor":"black","gridDash":[1.3,2],"gridWidth":1.3,"gridOpacity":1,"zindex":1}}}}
 ],
 "resolve":{"axis":{"x":"independent","y":"independent"}}},
{"width":260,"height":380,"data":{"name":"PL"},"title":{"text":"Precipitation LS"},
 "layer":[
  {"mark":"rect","encoding":{
   "x":{"field":"lt","type":"ordinal","axis":{"title":"lt (months)","titleFontSize":6.4,"titleFontWeight":"bold","titlePadding":24}},
   "y":{"field":"m","type":"ordinal","sort":["Jan","Feb","Mar","Apr","May","Jun","Jul","Aug","Sep","Oct","Nov","Dec"],"axis":{"title":null}},
   "color":{"field":"v","type":"quantitative","scale":{"domain":[0,10,20,30,40,50,60,70,80,90,100],"range":["#ffffff","#ece4ff","#ddcdff","#cfb9ff","#c1a6ff","#b193ff","#a17cff","#8e64ff","#7549ff","#552eff","#0000ff"],"interpolate":"rgb"},"legend":{"orient":"none","direction":"horizontal","legendX":180,"legendY":1454,"values":[0,10,20,30,40,50,60,70,80,90,100],"title":"%","encode":{"labels":{"update":{"align":{"value":"center"}}}}}}}},
  {"mark":{"type":"rect","opacity":0},"encoding":{
   "x":{"field":"lt","type":"ordinal","axis":{"orient":"bottom","title":null,"labels":false,"ticks":false,"domain":false,"grid":true,"bandPosition":0,"values":[2,3,4,5,6,7],"gridColor":"black","gridDash":[1.3,2],"gridWidth":1.3,"gridOpacity":1,"zindex":1}},
   "y":{"field":"m","type":"ordinal","sort":["Jan","Feb","Mar","Apr","May","Jun","Jul","Aug","Sep","Oct","Nov","Dec"],"axis":{"orient":"left","title":null,"labels":false,"ticks":false,"domain":false,"grid":true,"bandPosition":0,"values":["Feb","Mar","Apr","May","Jun","Jul","Aug","Sep","Oct","Nov","Dec"],"gridColor":"black","gridDash":[1.3,2],"gridWidth":1.3,"gridOpacity":1,"zindex":1}}}}
 ],
 "resolve":{"axis":{"x":"independent","y":"independent"}}},
{"width":260,"height":380,"data":{"name":"TL"},"title":{"text":"Temperature LS"},
 "layer":[
  {"mark":"rect","encoding":{
   "x":{"field":"lt","type":"ordinal","axis":{"title":"lt (months)","titleFontSize":6.4,"titleFontWeight":"bold","titlePadding":24}},
   "y":{"field":"m","type":"ordinal","sort":["Jan","Feb","Mar","Apr","May","Jun","Jul","Aug","Sep","Oct","Nov","Dec"],"axis":{"title":null}},
   "color":{"field":"v","type":"quantitative","scale":{"domain":[0,10,20,30,40,50,60,70,80,90,100],"range":["#ffffff","#ece4ff","#ddcdff","#cfb9ff","#c1a6ff","#b193ff","#a17cff","#8e64ff","#7549ff","#552eff","#0000ff"],"interpolate":"rgb"},"legend":{"orient":"none","direction":"horizontal","legendX":180,"legendY":1454,"values":[0,10,20,30,40,50,60,70,80,90,100],"title":"%","encode":{"labels":{"update":{"align":{"value":"center"}}}}}}}},
  {"mark":{"type":"rect","opacity":0},"encoding":{
   "x":{"field":"lt","type":"ordinal","axis":{"orient":"bottom","title":null,"labels":false,"ticks":false,"domain":false,"grid":true,"bandPosition":0,"values":[2,3,4,5,6,7],"gridColor":"black","gridDash":[1.3,2],"gridWidth":1.3,"gridOpacity":1,"zindex":1}},
   "y":{"field":"m","type":"ordinal","sort":["Jan","Feb","Mar","Apr","May","Jun","Jul","Aug","Sep","Oct","Nov","Dec"],"axis":{"orient":"left","title":null,"labels":false,"ticks":false,"domain":false,"grid":true,"bandPosition":0,"values":["Feb","Mar","Apr","May","Jun","Jul","Aug","Sep","Oct","Nov","Dec"],"gridColor":"black","gridDash":[1.3,2],"gridWidth":1.3,"gridOpacity":1,"zindex":1}}}}
 ],
 "resolve":{"axis":{"x":"independent","y":"independent"}}},
{"width":260,"height":380,"data":{"name":"EL"},"title":{"text":["Reference","Evapotranspiration LS"],"offset":-7,"zindex":-1},
 "layer":[
  {"mark":"rect","encoding":{
   "x":{"field":"lt","type":"ordinal","axis":{"title":"lt (months)","titleFontSize":6.4,"titleFontWeight":"bold","titlePadding":24}},
   "y":{"field":"m","type":"ordinal","sort":["Jan","Feb","Mar","Apr","May","Jun","Jul","Aug","Sep","Oct","Nov","Dec"],"axis":{"title":null}},
   "color":{"field":"v","type":"quantitative","scale":{"domain":[0,10,20,30,40,50,60,70,80,90,100],"range":["#ffffff","#ece4ff","#ddcdff","#cfb9ff","#c1a6ff","#b193ff","#a17cff","#8e64ff","#7549ff","#552eff","#0000ff"],"interpolate":"rgb"},"legend":{"orient":"none","direction":"horizontal","legendX":180,"legendY":1454,"values":[0,10,20,30,40,50,60,70,80,90,100],"title":"%","encode":{"labels":{"update":{"align":{"value":"center"}}}}}}}},
  {"mark":{"type":"rect","opacity":0},"encoding":{
   "x":{"field":"lt","type":"ordinal","axis":{"orient":"bottom","title":null,"labels":false,"ticks":false,"domain":false,"grid":true,"bandPosition":0,"values":[2,3,4,5,6,7],"gridColor":"black","gridDash":[1.3,2],"gridWidth":1.3,"gridOpacity":1,"zindex":1}},
   "y":{"field":"m","type":"ordinal","sort":["Jan","Feb","Mar","Apr","May","Jun","Jul","Aug","Sep","Oct","Nov","Dec"],"axis":{"orient":"left","title":null,"labels":false,"ticks":false,"domain":false,"grid":true,"bandPosition":0,"values":["Feb","Mar","Apr","May","Jun","Jul","Aug","Sep","Oct","Nov","Dec"],"gridColor":"black","gridDash":[1.3,2],"gridWidth":1.3,"gridOpacity":1,"zindex":1}}}}
 ],
 "resolve":{"axis":{"x":"independent","y":"independent"}}},
{"width":260,"height":380,"data":{"name":"PQ"},"title":{"text":"Precipitation QM"},
 "layer":[
  {"mark":"rect","encoding":{
   "x":{"field":"lt","type":"ordinal","axis":{"title":"lt (months)","titleFontSize":6.4,"titleFontWeight":"bold","titlePadding":24}},
   "y":{"field":"m","type":"ordinal","sort":["Jan","Feb","Mar","Apr","May","Jun","Jul","Aug","Sep","Oct","Nov","Dec"],"axis":{"title":null}},
   "color":{"field":"v","type":"quantitative","scale":{"domain":[0,10,20,30,40,50,60,70,80,90,100],"range":["#ffffff","#ece4ff","#ddcdff","#cfb9ff","#c1a6ff","#b193ff","#a17cff","#8e64ff","#7549ff","#552eff","#0000ff"],"interpolate":"rgb"},"legend":{"orient":"none","direction":"horizontal","legendX":180,"legendY":1454,"values":[0,10,20,30,40,50,60,70,80,90,100],"title":"%","encode":{"labels":{"update":{"align":{"value":"center"}}}}}}}},
  {"mark":{"type":"rect","opacity":0},"encoding":{
   "x":{"field":"lt","type":"ordinal","axis":{"orient":"bottom","title":null,"labels":false,"ticks":false,"domain":false,"grid":true,"bandPosition":0,"values":[2,3,4,5,6,7],"gridColor":"black","gridDash":[1.3,2],"gridWidth":1.3,"gridOpacity":1,"zindex":1}},
   "y":{"field":"m","type":"ordinal","sort":["Jan","Feb","Mar","Apr","May","Jun","Jul","Aug","Sep","Oct","Nov","Dec"],"axis":{"orient":"left","title":null,"labels":false,"ticks":false,"domain":false,"grid":true,"bandPosition":0,"values":["Feb","Mar","Apr","May","Jun","Jul","Aug","Sep","Oct","Nov","Dec"],"gridColor":"black","gridDash":[1.3,2],"gridWidth":1.3,"gridOpacity":1,"zindex":1}}}}
 ],
 "resolve":{"axis":{"x":"independent","y":"independent"}}},
{"width":260,"height":380,"data":{"name":"TQ"},"title":{"text":"Temperature QM"},
 "layer":[
  {"mark":"rect","encoding":{
   "x":{"field":"lt","type":"ordinal","axis":{"title":"lt (months)","titleFontSize":6.4,"titleFontWeight":"bold","titlePadding":24}},
   "y":{"field":"m","type":"ordinal","sort":["Jan","Feb","Mar","Apr","May","Jun","Jul","Aug","Sep","Oct","Nov","Dec"],"axis":{"title":null}},
   "color":{"field":"v","type":"quantitative","scale":{"domain":[0,10,20,30,40,50,60,70,80,90,100],"range":["#ffffff","#ece4ff","#ddcdff","#cfb9ff","#c1a6ff","#b193ff","#a17cff","#8e64ff","#7549ff","#552eff","#0000ff"],"interpolate":"rgb"},"legend":{"orient":"none","direction":"horizontal","legendX":180,"legendY":1454,"values":[0,10,20,30,40,50,60,70,80,90,100],"title":"%","encode":{"labels":{"update":{"align":{"value":"center"}}}}}}}},
  {"mark":{"type":"rect","opacity":0},"encoding":{
   "x":{"field":"lt","type":"ordinal","axis":{"orient":"bottom","title":null,"labels":false,"ticks":false,"domain":false,"grid":true,"bandPosition":0,"values":[2,3,4,5,6,7],"gridColor":"black","gridDash":[1.3,2],"gridWidth":1.3,"gridOpacity":1,"zindex":1}},
   "y":{"field":"m","type":"ordinal","sort":["Jan","Feb","Mar","Apr","May","Jun","Jul","Aug","Sep","Oct","Nov","Dec"],"axis":{"orient":"left","title":null,"labels":false,"ticks":false,"domain":false,"grid":true,"bandPosition":0,"values":["Feb","Mar","Apr","May","Jun","Jul","Aug","Sep","Oct","Nov","Dec"],"gridColor":"black","gridDash":[1.3,2],"gridWidth":1.3,"gridOpacity":1,"zindex":1}}}}
 ],
 "resolve":{"axis":{"x":"independent","y":"independent"}}},
{"width":260,"height":380,"data":{"name":"EQ"},"title":{"text":["Reference","Evapotranspiration QM"],"offset":-7,"zindex":-1},
 "layer":[
  {"mark":"rect","encoding":{
   "x":{"field":"lt","type":"ordinal","axis":{"title":"lt (months)","titleFontSize":6.4,"titleFontWeight":"bold","titlePadding":24}},
   "y":{"field":"m","type":"ordinal","sort":["Jan","Feb","Mar","Apr","May","Jun","Jul","Aug","Sep","Oct","Nov","Dec"],"axis":{"title":null}},
   "color":{"field":"v","type":"quantitative","scale":{"domain":[0,10,20,30,40,50,60,70,80,90,100],"range":["#ffffff","#ece4ff","#ddcdff","#cfb9ff","#c1a6ff","#b193ff","#a17cff","#8e64ff","#7549ff","#552eff","#0000ff"],"interpolate":"rgb"},"legend":{"orient":"none","direction":"horizontal","legendX":180,"legendY":1454,"values":[0,10,20,30,40,50,60,70,80,90,100],"title":"%","encode":{"labels":{"update":{"align":{"value":"center"}}}}}}}},
  {"mark":{"type":"rect","opacity":0},"encoding":{
   "x":{"field":"lt","type":"ordinal","axis":{"orient":"bottom","title":null,"labels":false,"ticks":false,"domain":false,"grid":true,"bandPosition":0,"values":[2,3,4,5,6,7],"gridColor":"black","gridDash":[1.3,2],"gridWidth":1.3,"gridOpacity":1,"zindex":1}},
   "y":{"field":"m","type":"ordinal","sort":["Jan","Feb","Mar","Apr","May","Jun","Jul","Aug","Sep","Oct","Nov","Dec"],"axis":{"orient":"left","title":null,"labels":false,"ticks":false,"domain":false,"grid":true,"bandPosition":0,"values":["Feb","Mar","Apr","May","Jun","Jul","Aug","Sep","Oct","Nov","Dec"],"gridColor":"black","gridDash":[1.3,2],"gridWidth":1.3,"gridOpacity":1,"zindex":1}}}}
 ],
 "resolve":{"axis":{"x":"independent","y":"independent"}}}
]
}
